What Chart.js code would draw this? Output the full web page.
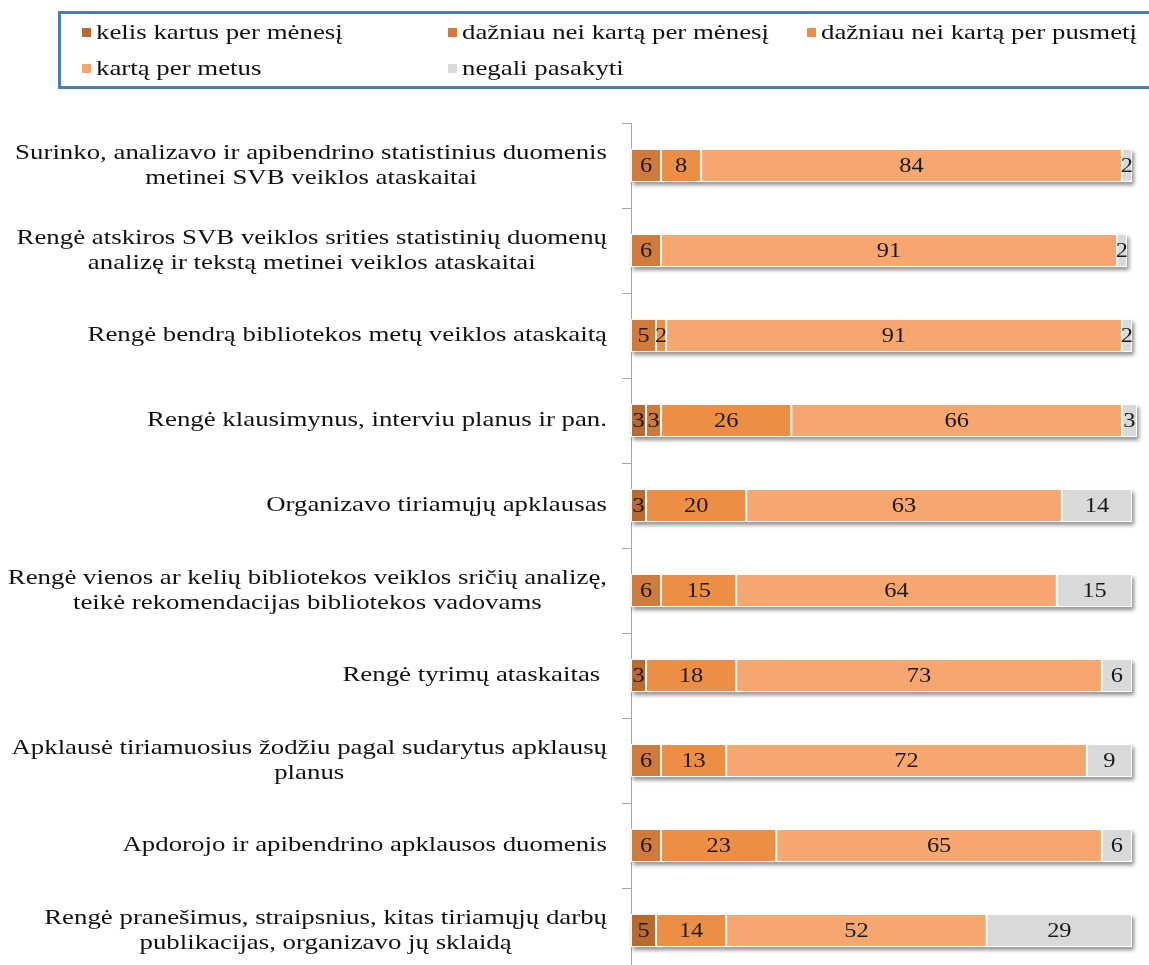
<!DOCTYPE html>
<html>
<head>
<meta charset="utf-8">
<script src="https://cdn.jsdelivr.net/npm/chart.js@4.4.0/dist/chart.umd.min.js"></script>
<style>
html, body { margin: 0; padding: 0; overflow: hidden; background: #fff; }
</style>
</head>
<body>
<canvas id="myChart" width="1149" height="975"></canvas>
<script>
var categories = [
    ["Surinko, analizavo ir apibendrino statistinius duomenis", "metinei SVB veiklos ataskaitai"],
    ["Rengė atskiros SVB veiklos srities statistinių duomenų", "analizę ir tekstą metinei veiklos ataskaitai"],
    ["Rengė bendrą bibliotekos metų veiklos ataskaitą"],
    ["Rengė klausimynus, interviu planus ir pan."],
    ["Organizavo tiriamųjų apklausas"],
    ["Rengė vienos ar kelių bibliotekos veiklos sričių analizę,", "teikė rekomendacijas bibliotekos vadovams"],
    ["Rengė tyrimų ataskaitas "],
    ["Apklausė tiriamuosius žodžiu pagal sudarytus apklausų", "planus"],
    ["Apdorojo ir apibendrino apklausos duomenis"],
    ["Rengė pranešimus, straipsnius, kitas tiriamųjų darbų", "publikacijas, organizavo jų sklaidą"]
];

var seriesNames = [
    "kelis kartus per mėnesį",
    "dažniau nei kartą per mėnesį",
    "dažniau nei kartą per pusmetį",
    "kartą per metus",
    "negali pasakyti"
];

var severalPerMonth  = [0, 0, 0, 3, 3, 0, 3, 0, 0, 5];
var moreThanMonthly  = [6, 6, 5, 3, 0, 6, 0, 6, 6, 0];
var moreThanHalfYear = [8, 0, 2, 26, 20, 15, 18, 13, 23, 14];
var oncePerYear      = [84, 91, 91, 66, 63, 64, 73, 72, 65, 52];
var cannotSay        = [2, 2, 2, 3, 14, 15, 6, 9, 6, 29];

var colors = ["#B86A30", "#D07B3B", "#EC8F44", "#F6A66F", "#D9D9D9"];

// text in the original is slightly stretched horizontally
var SX = 1.22;
var FONT = "Liberation Serif, 'Times New Roman', serif";

function drawText(ctx, text, x, y, align) {
    ctx.save();
    ctx.translate(x, y);
    ctx.scale(SX, 1);
    ctx.textAlign = align;
    ctx.textBaseline = "middle";
    ctx.fillText(text, 0, 0);
    ctx.restore();
}

var allSeries = [severalPerMonth, moreThanMonthly, moreThanHalfYear, oncePerYear, cannotSay];
var datasets = allSeries.map(function (vals, i) {
    return {
        label: seriesNames[i],
        data: vals,
        backgroundColor: colors[i],
        borderColor: "#ffffff",
        borderWidth: 1,
        borderSkipped: false,
        barPercentage: 0.39,
        categoryPercentage: 1
    };
});

// legend box at the top
var legendBox = {
    id: "legendBox",
    afterDraw: function (chart) {
        var ctx = chart.ctx;
        ctx.save();
        ctx.strokeStyle = "#4A7EBB";
        ctx.lineWidth = 3;
        ctx.strokeRect(59.5, 12.5, 1200, 75);
        var cols = [82, 448, 807];
        var rows = [33, 69];
        ctx.font = "22px " + FONT;
        ctx.fillStyle = "#111";
        seriesNames.forEach(function (name, i) {
            var cx = cols[i % 3], cy = rows[Math.floor(i / 3)];
            ctx.fillStyle = colors[i];
            ctx.fillRect(cx, cy - 5, 9, 9);
            ctx.fillStyle = "#111";
            drawText(ctx, name, cx + 14, cy, "left");
        });
        ctx.restore();
    }
};

// soft shadow under every whole bar
var barShadow = {
    id: "barShadow",
    beforeDatasetsDraw: function (chart) {
        var ctx = chart.ctx;
        var first = chart.getDatasetMeta(0).data;
        ctx.save();
        ctx.shadowColor = "rgba(0,0,0,0.45)";
        ctx.shadowBlur = 4;
        ctx.shadowOffsetX = 2;
        ctx.shadowOffsetY = 3;
        ctx.fillStyle = "#ffffff";
        first.forEach(function (el, idx) {
            var left = el.base, right = el.base, h = el.height;
            chart.data.datasets.forEach(function (ds, d) {
                var e = chart.getDatasetMeta(d).data[idx];
                left = Math.min(left, e.base, e.x);
                right = Math.max(right, e.base, e.x);
            });
            ctx.fillRect(left, el.y - h / 2, right - left, h);
        });
        ctx.restore();
    }
};

// value labels and category labels
var textLayer = {
    id: "textLayer",
    afterDatasetsDraw: function (chart) {
        var ctx = chart.ctx;
        ctx.save();
        ctx.font = "20px " + FONT;
        ctx.fillStyle = "#1a1a1a";
        chart.data.datasets.forEach(function (ds, d) {
            chart.getDatasetMeta(d).data.forEach(function (el, i) {
                var v = ds.data[i];
                if (!v) return;
                drawText(ctx, String(v), (el.x + el.base) / 2, el.y + 1, "center");
            });
        });

        var yScale = chart.scales.y;
        ctx.font = "22px " + FONT;
        ctx.fillStyle = "#111";
        categories.forEach(function (lines, i) {
            var y = yScale.getPixelForValue(i);
            var maxW = 0;
            lines.forEach(function (t) { maxW = Math.max(maxW, ctx.measureText(t).width * SX); });
            var cx = 607 - maxW / 2;
            lines.forEach(function (t, j) {
                drawText(ctx, t, cx, y + (j - (lines.length - 1) / 2) * 25, "center");
            });
        });
        ctx.restore();
    }
};

var ctx = document.getElementById("myChart").getContext("2d");
var myBarChart = new Chart(ctx, {
    type: "bar",
    data: {
        labels: categories,
        datasets: datasets
    },
    options: {
        indexAxis: "y",
        responsive: false,
        animation: false,
        layout: { padding: { top: 123, bottom: 2, left: 0, right: 2 } },
        plugins: {
            legend: { display: false },
            tooltip: { enabled: false }
        },
        scales: {
            x: { stacked: true, min: 0, max: 103, display: false },
            y: {
                stacked: true,
                ticks: { display: false },
                grid: {
                    drawOnChartArea: false,
                    drawTicks: true,
                    tickLength: 9,
                    color: "#A6A6A6",
                    offset: true
                },
                border: { color: "#A6A6A6", width: 1 },
                afterFit: function (scale) { scale.width = 631; }
            }
        }
    },
    plugins: [barShadow, textLayer, legendBox]
});
</script>
</body>
</html>
